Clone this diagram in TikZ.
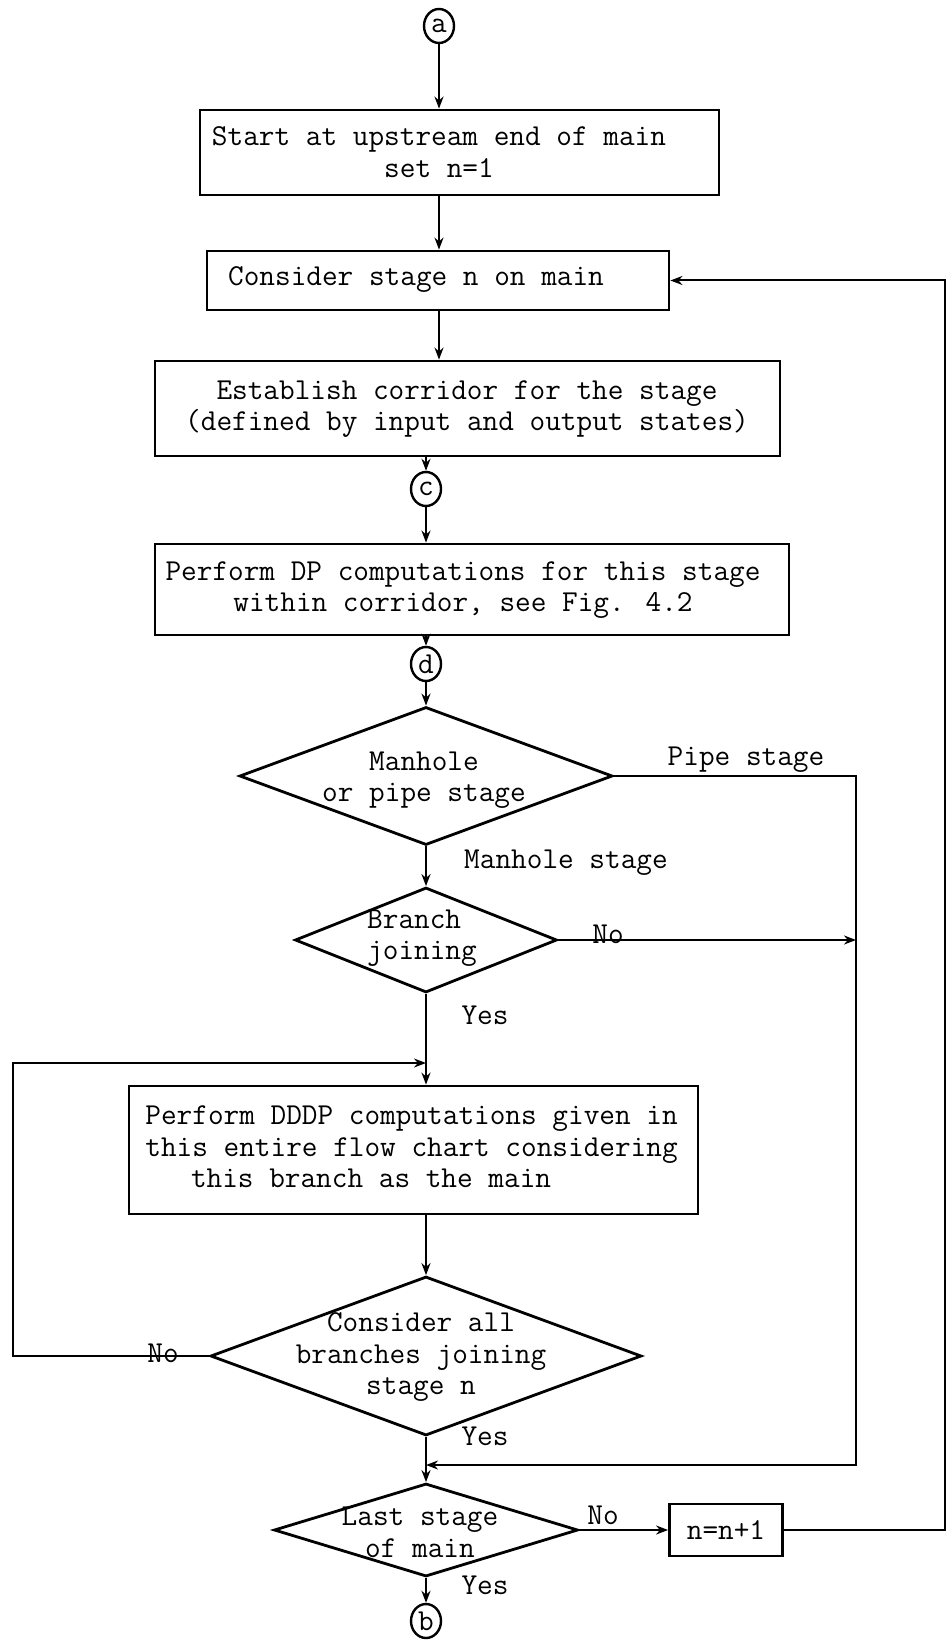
\documentclass[tikz,border=0pt]{standalone}
\usepackage{fontspec}
\usetikzlibrary{shapes.geometric,arrows.meta}
\begin{document}
\begin{tikzpicture}[x=0.5pt,y=-0.5pt,
  every node/.style={font=\ttfamily\fontsize{15.2pt}{15.8pt}\selectfont},
  proc/.style={draw,line width=1.4pt,rectangle,inner sep=0pt},
  dec/.style={draw,line width=1.4pt,diamond,inner sep=0pt},
  conn/.style={draw,line width=1.2pt,ellipse,inner sep=0pt,minimum width=15pt,minimum height=17pt},
  txt/.style={align=center,inner sep=0pt},
  lbl/.style={inner sep=0pt},
  arr/.style={line width=1pt,-{Stealth[length=6pt,width=4.5pt]}}]
\useasboundingbox (0,0) rectangle (948,1641);

% connector circles
\node[conn] (a) at (439,26) {a};
\node[conn] (c) at (426,489) {c};
\node[conn] (d) at (426,664) {d};
\node[conn] (b) at (426,1621) {b};

% process boxes
\node[proc,minimum width=259.5pt,minimum height=42.5pt] (box1) at (459.5,152.5) {};
\node[txt] (t1) at (439,152) {Start at upstream end of main\\set n=1};
\node[proc,minimum width=231pt,minimum height=29.5pt] (box2) at (438,280.5) {};
\node[txt] (t2) at (416,280) {Consider stage n on main};
\node[proc,minimum width=312.5pt,minimum height=47.5pt] (box3) at (467.5,408.5) {};
\node[txt] (t3) at (467,409) {Establish corridor for the stage\\(defined by input and output states)};
\node[proc,minimum width=317pt,minimum height=45.5pt] (box4) at (472,589.5) {};
\node[txt] (t4) at (463,590) {Perform DP computations for this stage\\within corridor, see Fig. 4.2};
\node[proc,minimum width=284.5pt,minimum height=64pt] (box5) at (413.5,1150) {};
\node[txt,align=left,anchor=west] (t5) at (145,1147) {Perform DDDP computations given in\\this entire flow chart considering\\\hspace*{1.5em}this branch as the main};
\node[proc,minimum width=56.5pt,minimum height=26pt] (nbox) at (726,1530) {n=n+1};

% decisions
\node[dec,minimum width=186.5pt,minimum height=69pt] (d1) at (426,776) {};
\node[txt] (t6) at (424,780) {Manhole\\or pipe stage};
\node[dec,minimum width=131pt,minimum height=52.5pt] (d2) at (426,940) {};
\node[txt,align=left] (t7) at (422,938) {Branch\\joining};
\node[dec,minimum width=215.5pt,minimum height=79.5pt] (d3) at (426,1356) {};
\node[txt] (t8) at (421,1357) {Consider all\\branches joining\\stage n};
\node[dec,minimum width=152pt,minimum height=46.5pt] (d4) at (426,1530) {};
\node[txt] (t9) at (420,1532) {Last stage\\of main};

% branch labels
\node[lbl] (lpipe) at (746,760) {Pipe stage};
\node[lbl] (lman) at (566,863) {Manhole stage};
\node[lbl] (lno1) at (608,934) {No};
\node[lbl] (lyes1) at (485,1015) {Yes};
\node[lbl] (lno2) at (163,1353) {No};
\node[lbl] (lyes2) at (485,1436) {Yes};
\node[lbl] (lno3) at (603,1515) {No};
\node[lbl] (lyes3) at (485,1585) {Yes};

% junction points
\coordinate (merge) at (426,1465);
\coordinate (mergeR) at (856,1465);
\coordinate (loopin) at (426,1063);
\coordinate (loopL) at (13,1063);
\coordinate (retR) at (945,280.5);

% main flow
\draw[arr] (a) -- (box1.north -| a);
\draw[arr] (box1.south -| a) -- (box2.north -| a);
\draw[arr] (box2.south -| a) -- (box3.north -| a);
\draw[arr] (box3.south -| c) -- (c);
\draw[arr] (c) -- (box4.north -| c);
\draw[arr] (box4.south -| d) -- (d);
\draw[arr] (d) -- (d1);
\draw[arr] (d1) -- (d2);
\draw[arr] (d2) -- (box5.north -| d2);
\draw[arr] (box5.south -| d3) -- (d3);
\draw[arr] (d3) -- (d4);
\draw[arr] (d4) -- (b);
\draw[arr] (d4.east) -- (nbox.west);

% side paths
\draw[arr] (d1.east) -| (mergeR) -- (merge);
\draw[arr] (d2.east) -- (d2.east -| mergeR);
\draw[arr] (d3.west) -| (loopL) -- (loopin);
\draw[arr] (nbox.east) -| (retR) -- (box2.east);
\end{tikzpicture}
\end{document}
